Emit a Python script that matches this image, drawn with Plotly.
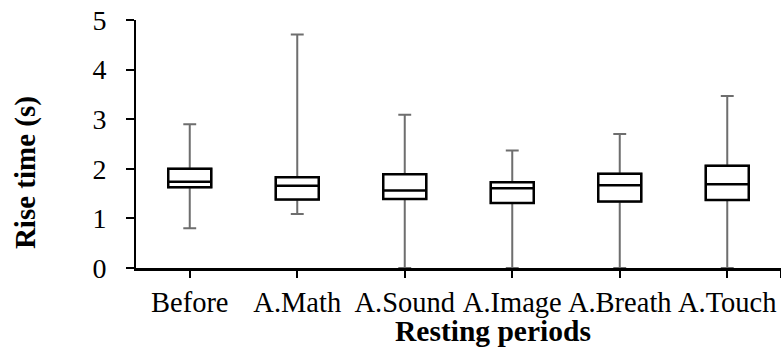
import plotly.graph_objects as go

# Resting periods and their rise-time box statistics (seconds)
periods = ["Before", "A.Math", "A.Sound", "A.Image", "A.Breath", "A.Touch"]
whisker_low = [0.80, 1.09, 0.0, 0.0, 0.0, 0.0]
q1 = [1.63, 1.38, 1.39, 1.31, 1.34, 1.37]
median = [1.74, 1.66, 1.56, 1.61, 1.67, 1.69]
q3 = [2.00, 1.83, 1.89, 1.73, 1.90, 2.06]
whisker_high = [2.90, 4.71, 3.09, 2.37, 2.70, 3.47]
y_ticks = [0, 1, 2, 3, 4, 5]

xpos = list(range(len(periods)))
serif = "Liberation Serif, Times New Roman, serif"

fig = go.Figure()

# Grey whiskers with caps
fig.add_trace(go.Box(
    x=xpos, q1=q1, median=median, q3=q3,
    lowerfence=whisker_low, upperfence=whisker_high,
    width=0.4, whiskerwidth=0.3,
    line=dict(color="#6e6e6e", width=2),
    fillcolor="white", boxpoints=False, hoverinfo="skip",
    showlegend=False,
))
# Black box and median drawn over the whiskers
fig.add_trace(go.Box(
    x=xpos, q1=q1, median=median, q3=q3,
    lowerfence=q1, upperfence=q3,
    width=0.4, whiskerwidth=0,
    line=dict(color="black", width=2.5),
    fillcolor="white", boxpoints=False,
    showlegend=False,
))

fig.update_layout(
    width=781, height=351,
    margin=dict(l=136, r=0, t=20, b=83),
    paper_bgcolor="white", plot_bgcolor="white",
    boxmode="overlay",
    font=dict(family=serif, color="black"),
    xaxis=dict(
        range=[-0.5, 5.5],
        tickvals=xpos + [5.5],
        ticktext=periods + [""],
        tickangle=0,
        ticks="outside", ticklen=7, tickwidth=2, tickcolor="black",
        showline=True, linecolor="black", linewidth=2.5,
        showgrid=False, zeroline=False,
        tickfont=dict(size=28.5, family=serif),
    ),
    yaxis=dict(
        range=[0, 5],
        tickvals=y_ticks,
        ticks="outside", ticklen=8, tickwidth=2, tickcolor="black",
        showline=True, linecolor="black", linewidth=2,
        showgrid=False, zeroline=False,
        tickfont=dict(size=28, family=serif),
        ticklabelstandoff=14,
    ),
    annotations=[
        dict(text="<b>Resting periods</b>", xref="paper", yref="paper",
             x=0.553, y=-0.181, xanchor="center", yanchor="top",
             showarrow=False, font=dict(size=29.5, family=serif)),
        dict(text="<b>Rise time (s)</b>", xref="paper", yref="paper",
             x=-0.172, y=0.383, xanchor="center", yanchor="middle",
             textangle=-90, showarrow=False, font=dict(size=29, family=serif)),
    ],
)

fig.write_html("out.html")
